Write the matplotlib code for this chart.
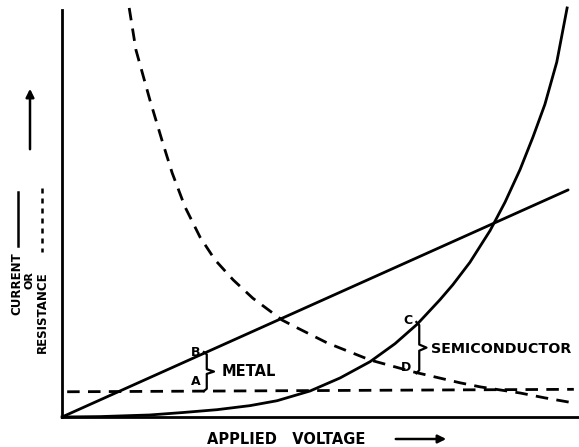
import matplotlib
matplotlib.use("Agg")
import matplotlib.pyplot as plt
import numpy as np

plt.rcParams['font.family'] = 'DejaVu Sans'
plt.rcParams['font.weight'] = 'bold'

# applied voltage on 0..100, current / resistance on 0..100 (arbitrary units)
# metal: current rises linearly, resistance stays flat
metal_v = [0, 97.9]
metal_current = [0, 55.8]
metal_res_v = [1, 99]
metal_resistance = [6.2, 6.8]

# semiconductor: current grows steeply, resistance falls off
semi_v = [0, 7.4, 17.0, 23.4, 30.0, 36.4, 41.6, 48.0, 53.8, 59.6, 64.4, 68.7,
          73.1, 75.6, 78.9, 82.8, 85.7, 88.6, 91.1, 93.4, 95.7, 97.7]
semi_current = [0, 0.1, 0.5, 1.1, 1.8, 2.8, 4.0, 6.4, 9.6, 13.6, 18.0, 22.8,
                28.8, 32.5, 38.0, 45.8, 52.8, 60.8, 68.8, 76.8, 87.2, 100.5]
semi_res_v = [13.0, 14.3, 17.0, 19.5, 21.3, 23.8, 26.7, 29.6, 33.1, 36.9, 42.6,
              45.5, 51.3, 59.6, 67.9, 77.0, 80.9, 88.6, 93.4, 99.2]
semi_resistance = [100.5, 90.2, 77.9, 67.3, 60.0, 51.6, 44.2, 38.6, 33.7, 29.2,
                   23.8, 21.9, 18.2, 14.0, 11.1, 8.4, 7.4, 5.9, 4.7, 3.4]

# voltages where the gap between current and resistance is marked
metal_mark = 28.0
semi_mark = 69.1

W, H = 579, 447
fig = plt.figure(figsize=(W / 100, H / 100), dpi=100)
ax = fig.add_axes([62 / W, 30 / H, 517 / W, 407 / H])
ax.set_xlim(0, 100)
ax.set_ylim(0, 100)
for s in ['top', 'right']:
    ax.spines[s].set_visible(False)
for s in ['left', 'bottom']:
    ax.spines[s].set_linewidth(2)
ax.set_xticks([])
ax.set_yticks([])

lw = 2.0
dash = (0, (4.5, 3))
ax.plot(metal_v, metal_current, color='black', lw=lw, solid_capstyle='round')
ax.plot(metal_res_v, metal_resistance, color='black', lw=lw, linestyle=dash)
ax.plot(semi_v, semi_current, color='black', lw=lw, clip_on=False, solid_joinstyle='round')
ax.plot(semi_res_v, semi_resistance, color='black', lw=lw, linestyle=dash, clip_on=False)


def brace(x, y0, y1, w=1.4):
    ym = (y0 + y1) / 2
    k = (y1 - y0) * 0.06
    xs = [x - w * 0.4, x, x, x + w, x, x, x - w * 0.4]
    ys = [y1, y1 - k, ym + k, ym, ym - k, y0 + k, y0]
    ax.plot(xs, ys, color='black', lw=1.6, solid_joinstyle='round')


top = np.interp(metal_mark, metal_v, metal_current)
bot = np.interp(metal_mark, metal_res_v, metal_resistance)
brace(metal_mark, bot, top)
ax.text(metal_mark - 1.2, top, 'B', ha='right', va='center', fontsize=9)
ax.text(metal_mark - 1.2, (top + bot) / 2 - 2.5, 'A', ha='right', va='center', fontsize=9)
ax.text(metal_mark + 2.8, (top + bot) / 2, 'METAL', ha='left', va='center', fontsize=10.5)

top = np.interp(semi_mark, semi_v, semi_current)
bot = np.interp(semi_mark, semi_res_v, semi_resistance)
brace(semi_mark, bot, top)
ax.text(semi_mark - 1.3, top + 0.3, 'C', ha='right', va='center', fontsize=9)
ax.text(semi_mark - 1.5, bot + 1.3, 'D', ha='right', va='center', fontsize=9)
ax.text(semi_mark + 2.3, (top + bot) / 2 - 0.3, 'SEMICONDUCTOR', ha='left', va='center',
        fontsize=10.3)

# axis captions
fig.text(286 / W, 1 - 439 / H, 'APPLIED   VOLTAGE', ha='center', va='center', fontsize=10.5)
ax.annotate('', xy=(449 / W, 1 - 439 / H), xytext=(393 / W, 1 - 439 / H),
            xycoords='figure fraction', textcoords='figure fraction',
            arrowprops=dict(arrowstyle='-|>', color='black', lw=1.8, mutation_scale=12))

fig.text(17 / W, 1 - 284 / H, 'CURRENT', rotation=90, ha='center', va='center', fontsize=8.5)
fig.add_artist(plt.Line2D([18 / W, 18 / W], [1 - 192 / H, 1 - 246 / H], color='black', lw=1.8))
fig.text(29.5 / W, 1 - 280 / H, 'OR', rotation=90, ha='center', va='center', fontsize=8)
fig.text(42 / W, 1 - 312 / H, 'RESISTANCE', rotation=90, ha='center', va='center', fontsize=8.5)
fig.add_artist(plt.Line2D([42 / W, 42 / W], [1 - 188 / H, 1 - 252 / H], color='black',
                          lw=1.8, linestyle=(0, (2, 2))))
ax.annotate('', xy=(30 / W, 1 - 86 / H), xytext=(30 / W, 1 - 152 / H),
            xycoords='figure fraction', textcoords='figure fraction',
            arrowprops=dict(arrowstyle='-|>', color='black', lw=1.8, mutation_scale=12))

fig.savefig('out.png', dpi=100)
